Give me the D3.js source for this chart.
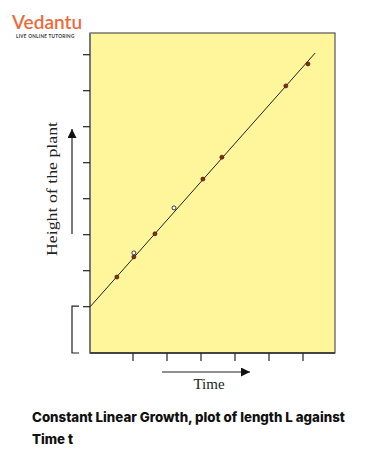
<!DOCTYPE html>
<html><head><meta charset="utf-8">
<script src="https://cdn.jsdelivr.net/npm/d3@7"></script>
<style>body{margin:0;background:#fff}svg{display:block}</style>
</head><body>
<svg id="c" width="368" height="468"></svg>
<script>
// data (arbitrary units)
const xTicks = [12.5, 22.5, 32.5, 42.5, 52.5, 62.5];
const yTicks = [1.3, 2.3, 3.3, 4.3, 5.3, 6.3, 7.3, 8.3];
const filledX = [7.9, 12.9, 19.1, 33.2, 38.8, 57.6, 64.1];
const filledY = [2.11, 2.67, 3.31, 4.83, 5.44, 7.42, 8.03];
const openX = [12.9, 24.7];
const openY = [2.78, 4.03];
const fitX = [0, 66.2];
const fitY = [1.28, 8.33];

const svg = d3.select("#c");
const L = 90, R = 335, T = 33, B = 353;
const x = d3.scaleLinear().domain([0, 72]).range([L, L + 72 * 3.4]);
const y = d3.scaleLinear().domain([0, 8.9]).range([B, B - 8.9 * 36]);

// logo
svg.append("text").attr("x", 12).attr("y", 29).attr("fill", "#ef6a3b")
  .attr("font-family", "Lato, sans-serif").attr("font-size", 19).attr("font-weight", 600)
  .text("Vedantu");
svg.append("text").attr("x", 16).attr("y", 38).attr("fill", "#333")
  .attr("font-family", "Lato, sans-serif").attr("font-size", 4.6).attr("font-weight", 700)
  .attr("letter-spacing", 0.3).text("LIVE ONLINE TUTORING");

// plot background
svg.append("rect").attr("x", L).attr("y", T).attr("width", R - L).attr("height", B - T)
  .attr("fill", "#fff59b").attr("stroke", "#555").attr("stroke-width", 1.2);
svg.append("line").attr("x1", L).attr("x2", L).attr("y1", T).attr("y2", B)
  .attr("stroke", "#777").attr("stroke-width", 2);
svg.append("line").attr("x1", L).attr("x2", R).attr("y1", B).attr("y2", B)
  .attr("stroke", "#444").attr("stroke-width", 1.8);

// axes ticks
const ya = svg.append("g").attr("transform", `translate(${L},0)`)
  .call(d3.axisLeft(y).tickValues(yTicks).tickSize(7).tickFormat(""));
ya.select(".domain").remove();
ya.selectAll("line").attr("stroke", "#222").attr("stroke-width", 1.2);
const xa = svg.append("g").attr("transform", `translate(0,${B})`)
  .call(d3.axisBottom(x).tickValues(xTicks).tickSize(8).tickFormat(""));
xa.select(".domain").remove();
xa.selectAll("line").attr("stroke", "#222").attr("stroke-width", 1.2);

// fitted line
svg.append("line").attr("x1", x(fitX[0])).attr("y1", y(fitY[0]))
  .attr("x2", x(fitX[1])).attr("y2", y(fitY[1]))
  .attr("stroke", "#222").attr("stroke-width", 1);

// points
svg.selectAll(".f").data(filledX.map((d, i) => [d, filledY[i]])).enter()
  .append("circle").attr("cx", d => x(d[0])).attr("cy", d => y(d[1])).attr("r", 2)
  .attr("fill", "#8a2a12").attr("stroke", "#3a1a0a").attr("stroke-width", 0.7);
svg.selectAll(".o").data(openX.map((d, i) => [d, openY[i]])).enter()
  .append("circle").attr("cx", d => x(d[0])).attr("cy", d => y(d[1])).attr("r", 2)
  .attr("fill", "#fff").attr("stroke", "#222").attr("stroke-width", 0.9);

// bracket
svg.append("path").attr("d", `M79,${y(yTicks[0])} H72 V${B} H79`)
  .attr("fill", "none").attr("stroke", "#222").attr("stroke-width", 1.2);

// arrows
const defs = svg.append("defs");
defs.append("marker").attr("id", "ah").attr("viewBox", "0 0 10 10").attr("refX", 10).attr("refY", 5)
  .attr("markerWidth", 9).attr("markerHeight", 9).attr("markerUnits", "userSpaceOnUse")
  .attr("orient", "auto").append("path").attr("d", "M0,0 L10,5 L0,10 Z").attr("fill", "#111");
svg.append("line").attr("x1", 72).attr("y1", 234).attr("x2", 72).attr("y2", 129)
  .attr("stroke", "#222").attr("stroke-width", 1.2).attr("marker-end", "url(#ah)");
svg.append("line").attr("x1", 162).attr("y1", 372).attr("x2", 250).attr("y2", 372)
  .attr("stroke", "#222").attr("stroke-width", 1.2).attr("marker-end", "url(#ah)");

// axis labels
const yl = svg.append("text").attr("transform", "translate(57,189) rotate(-90)").attr("text-anchor", "middle")
  .attr("font-family", "Liberation Serif, serif").attr("font-size", 15).attr("fill", "#222")
  .text("Height of the plant");
yl.attr("textLength", 134).attr("lengthAdjust", "spacingAndGlyphs");
svg.append("text").attr("x", 209).attr("y", 389).attr("text-anchor", "middle")
  .attr("font-family", "Liberation Serif, serif").attr("font-size", 15).attr("fill", "#222")
  .text("Time");

// caption
const cap1 = svg.append("text").attr("x", 32).attr("y", 422)
  .attr("font-family", "Inter, sans-serif").attr("font-size", 14).attr("font-weight", 800)
  .attr("fill", "#111").text("Constant Linear Growth, plot of length L against");
const w = cap1.node().getComputedTextLength();
const fs = 14 * 313 / w;
cap1.attr("font-size", fs);
svg.append("text").attr("x", 32).attr("y", 444)
  .attr("font-family", "Inter, sans-serif").attr("font-size", fs).attr("font-weight", 800)
  .attr("fill", "#111").text("Time t");
</script>
</body></html>
